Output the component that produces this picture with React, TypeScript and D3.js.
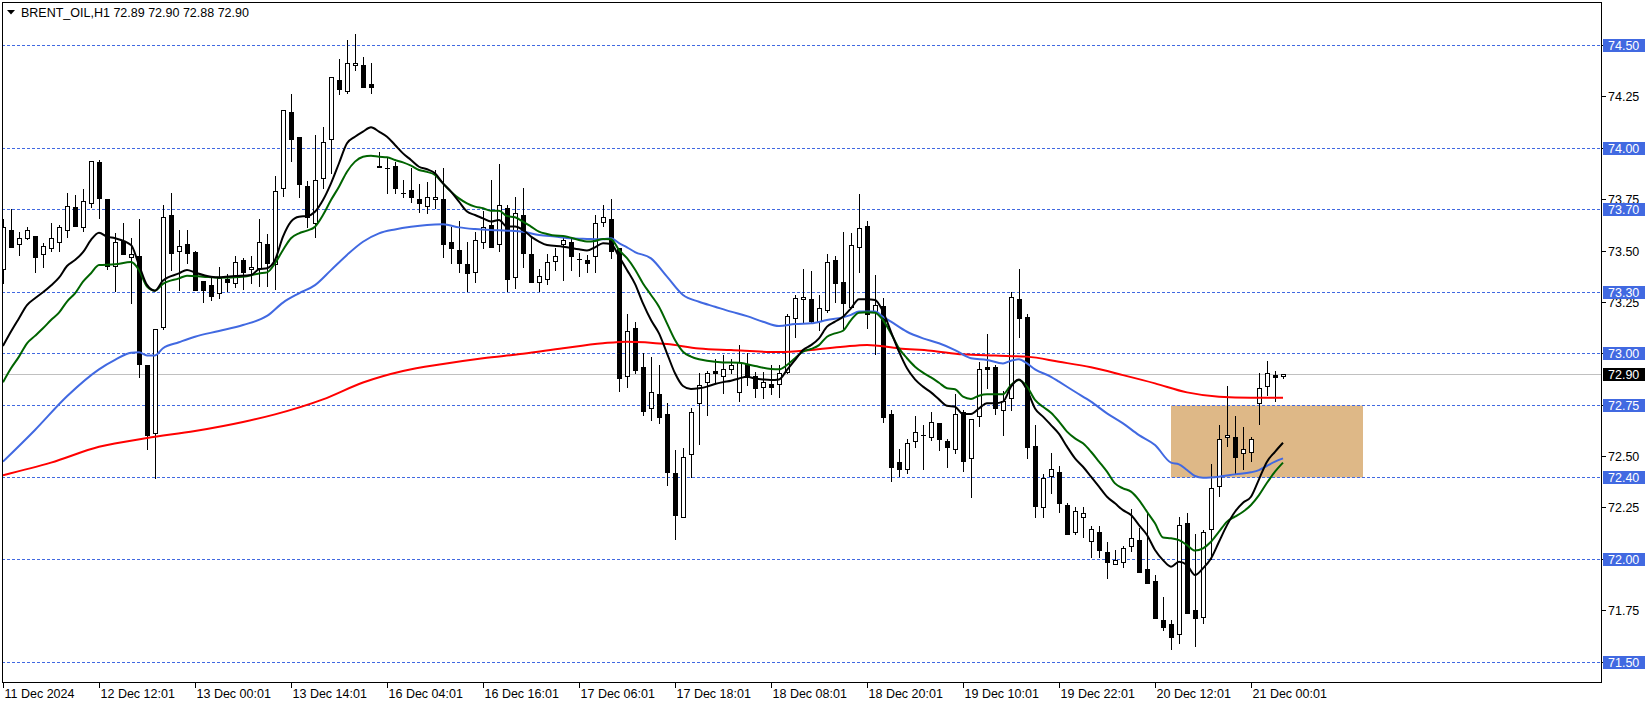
import React, { useRef, useEffect } from 'react';
import * as d3 from 'd3';

// H1 bars, oldest first (bar 0 = "11 Dec 2024" tick)
const opens = [
  73.411, 73.602, 73.533, 73.562, 73.573, 73.484, 73.513, 73.542, 73.602, 73.713,
  73.615, 73.732, 73.932, 73.752, 73.427, 73.549, 73.473, 73.476, 72.944, 72.613,
  73.132, 73.675, 73.502, 73.534, 73.495, 73.354, 73.335, 73.294, 73.362, 73.343,
  73.456, 73.411, 73.416, 73.534, 73.435, 73.805, 74.175, 74.053, 73.816, 73.635,
  73.854, 74.043, 74.330, 74.280, 74.403, 74.403, 74.311, 73.915, 73.905, 73.914,
  73.781, 73.797, 73.753, 73.721, 73.752, 73.752, 73.542, 73.505, 73.435, 73.400,
  73.542, 73.627, 73.533, 73.711, 73.372, 73.675, 73.484, 73.351, 73.362, 73.453,
  73.533, 73.542, 73.463, 73.458, 73.474, 73.643, 73.654, 73.513, 72.894, 73.124,
  72.934, 72.734, 72.802, 72.705, 72.420, 72.207, 72.514, 72.760, 72.861, 72.916,
  72.893, 72.924, 72.812, 72.948, 72.893, 72.840, 72.851, 72.853, 72.913, 73.172,
  73.265, 73.265, 73.161, 73.213, 73.456, 73.351, 73.228, 73.520, 73.623, 73.206,
  73.230, 72.707, 72.475, 72.441, 72.575, 72.605, 72.593, 72.661, 72.574, 72.535,
  72.715, 72.491, 72.697, 72.934, 72.934, 72.726, 72.783, 73.265, 73.180, 72.553,
  72.256, 72.405, 72.423, 72.264, 72.131, 72.204, 72.090, 72.131, 72.033, 71.975,
  71.985, 72.064, 72.093, 71.952, 71.894, 71.704, 71.685, 71.634, 72.178, 71.753,
  71.720, 72.145, 72.356, 72.593, 72.593, 72.515, 72.523, 72.762, 72.843, 72.896,
  72.890,
];
const highs = [
  73.654, 73.703, 73.594, 73.615, 73.575, 73.538, 73.635, 73.627, 73.781, 73.771,
  73.804, 73.940, 73.943, 73.752, 73.589, 73.635, 73.562, 73.654, 72.944, 73.122,
  73.724, 73.781, 73.602, 73.602, 73.502, 73.354, 73.375, 73.424, 73.388, 73.476,
  73.464, 73.476, 73.656, 73.583, 73.865, 74.184, 74.264, 74.053, 73.842, 74.064,
  74.102, 74.345, 74.433, 74.527, 74.554, 74.442, 74.413, 73.983, 73.951, 73.935,
  73.845, 73.902, 73.826, 73.838, 73.894, 73.902, 73.619, 73.646, 73.542, 73.594,
  73.696, 73.846, 73.924, 73.724, 73.761, 73.805, 73.573, 73.411, 73.484, 73.513,
  73.573, 73.562, 73.489, 73.481, 73.675, 73.724, 73.752, 73.513, 73.194, 73.153,
  73.002, 72.982, 72.945, 72.760, 72.532, 72.540, 72.738, 72.905, 72.916, 72.973,
  72.994, 72.973, 73.042, 73.002, 72.913, 72.913, 72.945, 72.945, 73.193, 73.286,
  73.412, 73.403, 73.286, 73.485, 73.476, 73.594, 73.590, 73.777, 73.645, 73.382,
  73.273, 72.726, 72.537, 72.583, 72.697, 72.653, 72.715, 72.661, 72.585, 72.802,
  72.726, 72.681, 72.961, 73.096, 72.945, 72.820, 73.302, 73.411, 73.193, 72.653,
  72.415, 72.515, 72.455, 72.275, 72.252, 72.252, 72.163, 72.163, 72.082, 72.045,
  72.064, 72.243, 72.150, 72.226, 71.923, 71.818, 71.704, 72.207, 72.226, 72.121,
  72.140, 72.463, 72.653, 72.843, 72.697, 72.642, 72.593, 72.908, 72.964, 72.917,
  72.900,
];
const lows = [
  73.343, 73.521, 73.481, 73.560, 73.400, 73.424, 73.502, 73.502, 73.570, 73.620,
  73.599, 73.713, 73.662, 73.411, 73.304, 73.484, 73.246, 72.885, 72.535, 72.395,
  73.122, 73.408, 73.310, 73.443, 73.310, 73.254, 73.262, 73.270, 73.307, 73.326,
  73.313, 73.343, 73.331, 73.331, 73.313, 73.769, 73.939, 73.761, 73.615, 73.570,
  73.805, 73.878, 74.264, 74.270, 74.381, 74.300, 74.270, 73.910, 73.781, 73.781,
  73.764, 73.740, 73.691, 73.683, 73.708, 73.473, 73.443, 73.400, 73.306, 73.351,
  73.513, 73.521, 73.502, 73.306, 73.322, 73.424, 73.351, 73.306, 73.340, 73.408,
  73.359, 73.408, 73.379, 73.400, 73.400, 73.623, 73.464, 72.821, 72.840, 72.905,
  72.702, 72.677, 72.661, 72.360, 72.097, 72.207, 72.400, 72.560, 72.702, 72.856,
  72.810, 72.905, 72.772, 72.848, 72.791, 72.783, 72.804, 72.791, 72.905, 73.083,
  73.148, 73.148, 73.115, 73.205, 73.253, 73.115, 73.228, 73.397, 73.123, 72.997,
  72.669, 72.382, 72.405, 72.421, 72.545, 72.441, 72.580, 72.532, 72.451, 72.515,
  72.431, 72.301, 72.650, 72.831, 72.707, 72.605, 72.726, 73.083, 72.491, 72.204,
  72.204, 72.324, 72.231, 72.121, 72.121, 72.110, 72.012, 72.012, 71.910, 71.975,
  71.964, 72.042, 71.939, 71.883, 71.712, 71.656, 71.561, 71.594, 71.740, 71.578,
  71.691, 71.999, 72.309, 72.551, 72.418, 72.439, 72.478, 72.658, 72.799, 72.771,
  72.880,
];
const closes = [
  73.615, 73.521, 73.562, 73.602, 73.473, 73.525, 73.562, 73.615, 73.721, 73.623,
  73.742, 73.940, 73.760, 73.427, 73.542, 73.484, 73.486, 72.950, 72.603, 73.122,
  73.664, 73.492, 73.525, 73.492, 73.310, 73.310, 73.283, 73.367, 73.351, 73.445,
  73.399, 73.424, 73.542, 73.443, 73.794, 74.184, 74.043, 73.824, 73.667, 73.844,
  74.032, 74.345, 74.290, 74.413, 74.413, 74.300, 74.300, 73.910, 73.905, 73.805,
  73.781, 73.761, 73.732, 73.761, 73.761, 73.533, 73.513, 73.443, 73.391, 73.552,
  73.615, 73.521, 73.724, 73.362, 73.683, 73.492, 73.351, 73.380, 73.445, 73.474,
  73.552, 73.474, 73.463, 73.443, 73.635, 73.664, 73.502, 72.884, 73.112, 72.921,
  72.723, 72.812, 72.694, 72.426, 72.217, 72.496, 72.718, 72.848, 72.905, 72.905,
  72.924, 72.943, 72.958, 72.888, 72.832, 72.861, 72.840, 72.905, 73.184, 73.273,
  73.274, 73.161, 73.221, 73.445, 73.342, 73.245, 73.529, 73.612, 73.191, 73.239,
  72.692, 72.451, 72.441, 72.564, 72.621, 72.605, 72.670, 72.583, 72.545, 72.705,
  72.480, 72.681, 72.924, 72.924, 72.734, 72.772, 73.274, 73.172, 72.545, 72.261,
  72.394, 72.441, 72.272, 72.121, 72.235, 72.223, 72.145, 72.045, 71.985, 71.996,
  72.053, 72.102, 71.939, 71.883, 71.712, 71.672, 71.623, 72.166, 71.740, 71.712,
  72.131, 72.345, 72.583, 72.604, 72.499, 72.535, 72.583, 72.831, 72.904, 72.885,
  72.900,
];

// moving averages: [bar, price]
const maFast: [number, number][] = [
  [0, 73.038], [1, 73.108], [2, 73.173], [3, 73.237], [4, 73.270], [5, 73.299], [6, 73.332],
  [7, 73.370], [8, 73.427], [9, 73.456], [10, 73.494], [11, 73.554], [12, 73.589], [13, 73.570],
  [14, 73.562], [16, 73.529], [17, 73.432], [18, 73.335], [19, 73.307], [20, 73.356], [22, 73.391],
  [23, 73.408], [24, 73.395], [26, 73.375], [27, 73.372], [29, 73.378], [31, 73.383], [32, 73.411],
  [33, 73.416], [34, 73.456], [35, 73.570], [36, 73.643], [37, 73.667], [38, 73.670], [39, 73.691],
  [40, 73.748], [41, 73.829], [42, 73.927], [43, 74.024], [44, 74.056], [45, 74.081], [46, 74.102],
  [47, 74.081], [48, 74.056], [49, 74.016], [50, 73.975], [51, 73.943], [52, 73.910], [53, 73.898],
  [54, 73.878], [55, 73.829], [56, 73.789], [57, 73.740], [58, 73.692], [59, 73.675], [60, 73.659],
  [61, 73.643], [62, 73.651], [63, 73.619], [64, 73.619], [65, 73.602], [66, 73.570], [67, 73.546],
  [68, 73.529], [70, 73.521], [72, 73.508], [73, 73.502], [74, 73.518], [75, 73.538], [76, 73.534],
  [77, 73.473], [78, 73.408], [79, 73.340], [80, 73.245], [81, 73.164], [82, 73.099], [83, 73.002],
  [84, 72.905], [85, 72.843], [86, 72.828], [87, 72.832], [88, 72.840], [89, 72.853], [90, 72.862],
  [91, 72.869], [92, 72.880], [93, 72.888], [94, 72.880], [95, 72.875], [96, 72.872], [97, 72.875],
  [98, 72.921], [99, 72.969], [100, 73.018], [101, 73.042], [102, 73.075], [103, 73.132], [104, 73.156],
  [105, 73.180], [106, 73.221], [107, 73.265], [108, 73.265], [109, 73.262], [110, 73.205], [111, 73.107],
  [112, 73.010], [113, 72.929], [114, 72.875], [115, 72.840], [116, 72.812], [117, 72.778], [118, 72.747],
  [119, 72.742], [120, 72.707], [121, 72.707], [122, 72.734], [123, 72.759], [124, 72.759], [125, 72.767],
  [126, 72.840], [127, 72.875], [128, 72.824], [129, 72.734], [130, 72.694], [131, 72.653], [132, 72.610],
  [133, 72.548], [134, 72.491], [135, 72.450], [136, 72.402], [137, 72.353], [138, 72.304], [139, 72.272],
  [140, 72.239], [141, 72.215], [142, 72.166], [143, 72.118], [144, 72.045], [145, 71.996], [146, 71.964],
  [147, 71.988], [148, 71.972], [149, 71.923], [150, 71.956], [151, 72.004], [152, 72.085], [153, 72.166],
  [154, 72.231], [155, 72.275], [156, 72.304], [157, 72.389], [158, 72.475], [159, 72.523], [160, 72.567],
];
const maMid: [number, number][] = [
  [0, 72.861], [1, 72.929], [2, 72.986], [3, 73.051], [4, 73.087], [5, 73.124], [6, 73.164],
  [7, 73.200], [8, 73.254], [9, 73.294], [10, 73.351], [11, 73.392], [12, 73.432], [14, 73.435],
  [16, 73.447], [17, 73.408], [18, 73.327], [19, 73.307], [20, 73.340], [22, 73.367], [23, 73.380],
  [25, 73.375], [27, 73.370], [30, 73.375], [32, 73.391], [33, 73.396], [34, 73.440], [35, 73.505],
  [36, 73.562], [37, 73.586], [38, 73.599], [39, 73.618], [40, 73.675], [41, 73.748], [42, 73.813],
  [43, 73.886], [44, 73.935], [45, 73.959], [46, 73.964], [47, 73.959], [48, 73.956], [49, 73.943],
  [50, 73.931], [51, 73.915], [52, 73.894], [53, 73.885], [54, 73.870], [55, 73.829], [56, 73.789],
  [57, 73.756], [58, 73.732], [59, 73.716], [60, 73.708], [61, 73.696], [62, 73.696], [63, 73.670],
  [64, 73.664], [65, 73.643], [66, 73.619], [67, 73.594], [68, 73.583], [69, 73.575], [70, 73.573],
  [72, 73.554], [73, 73.546], [74, 73.549], [75, 73.559], [76, 73.557], [77, 73.505], [78, 73.465],
  [79, 73.410], [80, 73.342], [81, 73.286], [82, 73.229], [83, 73.148], [84, 73.067], [85, 73.010],
  [86, 72.986], [87, 72.973], [88, 72.966], [90, 72.958], [92, 72.956], [94, 72.940], [96, 72.926],
  [97, 72.924], [98, 72.945], [99, 72.978], [100, 73.010], [101, 73.023], [102, 73.042], [103, 73.083],
  [104, 73.099], [105, 73.112], [106, 73.164], [107, 73.200], [108, 73.202], [109, 73.200], [110, 73.164],
  [111, 73.099], [112, 73.026], [113, 72.978], [114, 72.937], [115, 72.908], [116, 72.885], [117, 72.859],
  [118, 72.832], [119, 72.827], [120, 72.791], [121, 72.780], [122, 72.796], [123, 72.803], [125, 72.803],
  [126, 72.848], [127, 72.872], [128, 72.840], [129, 72.775], [130, 72.742], [131, 72.713], [132, 72.670],
  [133, 72.621], [134, 72.588], [135, 72.564], [136, 72.523], [137, 72.475], [138, 72.426], [139, 72.369],
  [140, 72.345], [141, 72.329], [142, 72.288], [143, 72.231], [144, 72.175], [145, 72.106], [146, 72.102],
  [147, 72.093], [148, 72.069], [149, 72.042], [150, 72.053], [151, 72.085], [152, 72.134], [153, 72.183],
  [154, 72.207], [155, 72.231], [156, 72.264], [157, 72.312], [158, 72.372], [159, 72.426], [160, 72.470],
];
const maSlow: [number, number][] = [
  [0, 72.475], [4, 72.629], [8, 72.793], [12, 72.924], [14, 72.970], [16, 73.005], [17, 73.007],
  [18, 72.992], [19, 72.992], [20, 73.027], [22, 73.056], [24, 73.083], [27, 73.111], [30, 73.140],
  [33, 73.184], [35, 73.249], [37, 73.294], [39, 73.334], [41, 73.407], [43, 73.481], [45, 73.545],
  [47, 73.586], [49, 73.605], [51, 73.618], [53, 73.627], [55, 73.630], [57, 73.615], [59, 73.607],
  [61, 73.602], [63, 73.599], [65, 73.594], [67, 73.578], [69, 73.570], [71, 73.562], [73, 73.559],
  [75, 73.557], [76, 73.562], [77, 73.538], [78, 73.518], [79, 73.495], [81, 73.464], [83, 73.375],
  [85, 73.286], [87, 73.253], [89, 73.229], [91, 73.205], [93, 73.183], [95, 73.156], [97, 73.135],
  [99, 73.145], [101, 73.148], [103, 73.164], [105, 73.177], [106, 73.189], [107, 73.205], [109, 73.205],
  [110, 73.180], [111, 73.156], [113, 73.107], [115, 73.075], [117, 73.051], [119, 73.018], [121, 72.978],
  [123, 72.970], [125, 72.953], [126, 72.966], [127, 72.973], [128, 72.953], [129, 72.924], [131, 72.888],
  [132, 72.864], [134, 72.815], [136, 72.767], [138, 72.710], [140, 72.661], [142, 72.604], [144, 72.556],
  [146, 72.470], [147, 72.462], [148, 72.434], [149, 72.405], [150, 72.397], [152, 72.402], [154, 72.413],
  [156, 72.423], [157, 72.434], [158, 72.455], [159, 72.475], [160, 72.491],
];
const maLong: [number, number][] = [
  [0, 72.409], [6, 72.470], [12, 72.547], [18, 72.590], [24, 72.624], [30, 72.668], [34, 72.705],
  [40, 72.778], [45, 72.860], [50, 72.916], [55, 72.950], [60, 72.978], [65, 73.000], [70, 73.027],
  [75, 73.051], [78, 73.059], [83, 73.047], [87, 73.026], [91, 73.018], [97, 73.008], [101, 73.018],
  [105, 73.034], [108, 73.043], [112, 73.026], [116, 73.015], [120, 72.997], [124, 72.991], [128, 72.986],
  [132, 72.961], [136, 72.934], [140, 72.896], [144, 72.856], [148, 72.812], [152, 72.791], [156, 72.786],
  [160, 72.786],
];

const levelLines = [74.5, 74.0, 73.7, 73.3, 73.0, 72.75, 72.4, 72.0, 71.5];
const priceTicks = [74.5, 74.25, 74.0, 73.75, 73.5, 73.25, 73.0, 72.75, 72.5, 72.25, 72.0, 71.75, 71.5];
const timeLabels = [
  '11 Dec 2024', '12 Dec 12:01', '13 Dec 00:01', '13 Dec 14:01', '16 Dec 04:01', '16 Dec 16:01',
  '17 Dec 06:01', '17 Dec 18:01', '18 Dec 08:01', '18 Dec 20:01', '19 Dec 10:01', '19 Dec 22:01',
  '20 Dec 12:01', '21 Dec 00:01',
];
const timeLabelBars = [0, 12, 24, 36, 48, 60, 72, 84, 96, 108, 120, 132, 144, 156];
const lastPrice = 72.9;
const zone = { top: 72.75, bottom: 72.4, fromBar: 146, toBar: 170 };
const title = 'BRENT_OIL,H1  72.89 72.90 72.88 72.90';

const W = 1651;
const H = 706;
const FONT = 'Liberation Sans, Arial, sans-serif';

const BrentChart: React.FC = () => {
  const svgRef = useRef<SVGSVGElement>(null);

  useEffect(() => {
    if (!svgRef.current) return;
    const svg = d3.select(svgRef.current);
    svg.selectAll('*').remove();

    const left = 2, right = 1601, top = 2, bottom = 682;
    const xScale = d3.scaleLinear().domain([0, 160]).range([3, 1283]);
    const yScale = d3.scaleLinear().domain([71.5, 74.5]).range([662, 45.5]);
    const crisp = (v: number) => Math.round(v - 0.5) + 0.5;

    svg.append('rect').attr('width', W).attr('height', H).attr('fill', '#fff');

    svg.append('defs').append('clipPath').attr('id', 'plot-clip')
      .append('rect').attr('x', left + 1).attr('y', top + 1)
      .attr('width', right - left - 1).attr('height', bottom - top - 1);

    const plot = svg.append('g').attr('clip-path', 'url(#plot-clip)');

    // support / resistance zone
    plot.append('rect')
      .attr('x', xScale(zone.fromBar))
      .attr('y', crisp(yScale(zone.top)))
      .attr('width', xScale(zone.toBar) - xScale(zone.fromBar))
      .attr('height', crisp(yScale(zone.bottom)) - crisp(yScale(zone.top)))
      .attr('fill', '#DEB887');

    // horizontal levels
    levelLines.forEach(l => {
      plot.append('line')
        .attr('x1', left).attr('x2', right)
        .attr('y1', crisp(yScale(l))).attr('y2', crisp(yScale(l)))
        .attr('stroke', '#4169E1').attr('stroke-width', 1)
        .attr('stroke-dasharray', '3,2');
    });

    plot.append('line')
      .attr('x1', left).attr('x2', right)
      .attr('y1', crisp(yScale(lastPrice))).attr('y2', crisp(yScale(lastPrice)))
      .attr('stroke', '#C0C0C0').attr('stroke-width', 1);

    // candles
    const candles = plot.append('g');
    opens.forEach((o, i) => {
      const c = closes[i];
      const cx = Math.round(xScale(i));
      candles.append('line')
        .attr('x1', cx + 0.5).attr('x2', cx + 0.5)
        .attr('y1', Math.round(yScale(highs[i]))).attr('y2', Math.round(yScale(lows[i])) + 1)
        .attr('stroke', '#000').attr('stroke-width', 1);
      const yt = Math.round(yScale(Math.max(o, c)));
      const yb = Math.round(yScale(Math.min(o, c)));
      if (yb - yt < 1) {
        candles.append('line')
          .attr('x1', cx - 2).attr('x2', cx + 3)
          .attr('y1', yt + 0.5).attr('y2', yt + 0.5)
          .attr('stroke', '#000').attr('stroke-width', 1);
      } else {
        candles.append('rect')
          .attr('x', cx - 1.5).attr('y', yt + 0.5)
          .attr('width', 4).attr('height', yb - yt)
          .attr('fill', c >= o ? '#fff' : '#000')
          .attr('stroke', '#000').attr('stroke-width', 1);
      }
    });

    // moving averages
    const line = d3.line<[number, number]>()
      .x(d => xScale(d[0]))
      .y(d => yScale(d[1]))
      .curve(d3.curveMonotoneX);

    const mas: [[number, number][], string][] = [
      [maLong, '#FF0000'],
      [maSlow, '#4169E1'],
      [maMid, '#006400'],
      [maFast, '#000000'],
    ];
    mas.forEach(([data, color]) => {
      plot.append('path')
        .datum(data)
        .attr('d', line as any)
        .attr('fill', 'none')
        .attr('stroke', color)
        .attr('stroke-width', 2)
        .attr('stroke-linejoin', 'round');
    });

    // frame
    svg.append('rect')
      .attr('x', left + 0.5).attr('y', top + 0.5)
      .attr('width', right - left).attr('height', bottom - top)
      .attr('fill', 'none').attr('stroke', '#000').attr('stroke-width', 1);

    // price axis
    const axis = svg.append('g').attr('font-family', FONT).attr('font-size', 12.5);
    priceTicks.forEach(t => {
      const y = crisp(yScale(t));
      axis.append('line')
        .attr('x1', right + 1).attr('x2', right + 5)
        .attr('y1', y).attr('y2', y)
        .attr('stroke', '#000');
      axis.append('text')
        .attr('x', 1608).attr('y', y + 4.5)
        .attr('fill', '#000')
        .text(t.toFixed(2));
    });

    levelLines.forEach(l => {
      const y = crisp(yScale(l));
      axis.append('rect')
        .attr('x', 1603).attr('y', y - 6.5)
        .attr('width', 42).attr('height', 13)
        .attr('fill', '#4169E1');
      axis.append('text')
        .attr('x', 1608).attr('y', y + 4.5)
        .attr('fill', '#fff')
        .text(l.toFixed(2));
    });

    const yl = crisp(yScale(lastPrice));
    axis.append('rect')
      .attr('x', 1603).attr('y', yl - 6.5)
      .attr('width', 42).attr('height', 13)
      .attr('fill', '#000');
    axis.append('text')
      .attr('x', 1608).attr('y', yl + 4.5)
      .attr('fill', '#fff')
      .text(lastPrice.toFixed(2));

    // time axis
    timeLabels.forEach((label, k) => {
      const x = Math.round(xScale(timeLabelBars[k])) + 0.5;
      axis.append('line')
        .attr('x1', x).attr('x2', x)
        .attr('y1', bottom).attr('y2', bottom + 6)
        .attr('stroke', '#000');
      axis.append('text')
        .attr('x', x + 1).attr('y', 698)
        .attr('fill', '#000')
        .text(label);
    });

    // header
    svg.append('path')
      .attr('d', 'M7,10 L15,10 L11,14.5 Z')
      .attr('fill', '#000');
    svg.append('text')
      .attr('x', 21).attr('y', 16.5)
      .attr('font-family', FONT).attr('font-size', 12.5)
      .attr('fill', '#000')
      .text(title);
  }, []);

  return (
    <svg
      ref={svgRef}
      width={W}
      height={H}
      style={{ position: 'absolute', left: 0, top: 0, display: 'block' }}
    />
  );
};

export default function App() {
  return <BrentChart />;
}
